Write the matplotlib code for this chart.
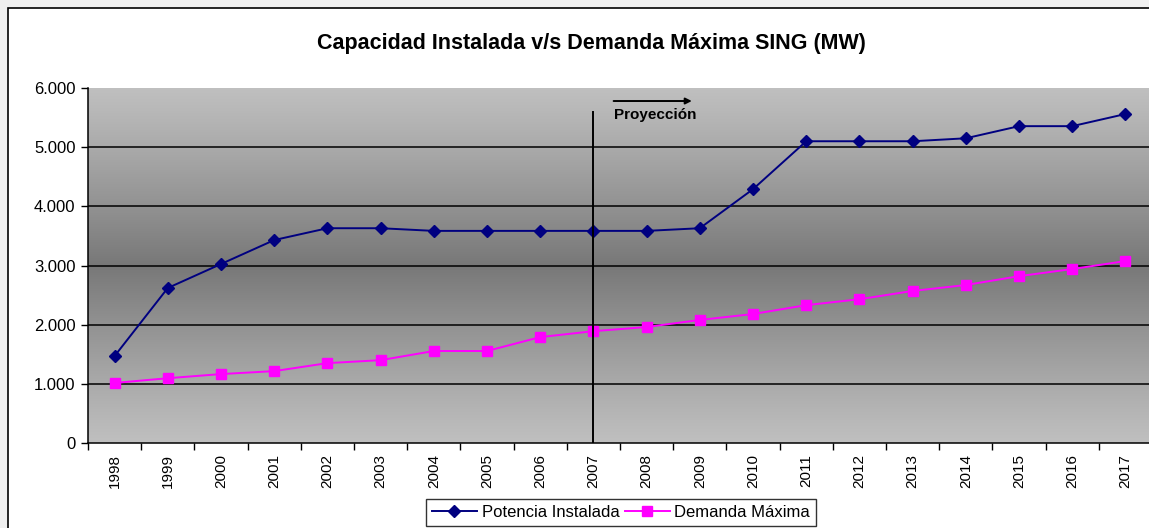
import numpy as np
import matplotlib
matplotlib.use("Agg")
import matplotlib.pyplot as plt
from matplotlib.patches import Rectangle
from matplotlib.ticker import FuncFormatter, FixedLocator

plt.rcParams["font.family"] = ["Liberation Sans", "DejaVu Sans"]

years = [str(y) for y in range(1998, 2018)]
potencia = [1470, 2620, 3025, 3430, 3630, 3630, 3585, 3585, 3585, 3585,
            3585, 3630, 4290, 5100, 5100, 5100, 5150, 5355, 5355, 5560]
demanda = [1015, 1095, 1165, 1215, 1350, 1400, 1555, 1555, 1790, 1890,
           1960, 2080, 2180, 2330, 2430, 2570, 2670, 2820, 2940, 3075]
yticks = [0, 1000, 2000, 3000, 4000, 5000, 6000]
proj_year = "2007"

W, H = 1149, 528
fig = plt.figure(figsize=(W / 100, H / 100), dpi=100)
fig.patch.set_facecolor("#efefef")

# white chart frame
fig.patches.append(Rectangle((8 / W, -0.1), 1.2, 1 - 8 / H + 0.1, transform=fig.transFigure,
                             facecolor="white", edgecolor="black", linewidth=1.2, zorder=-5))

ax = fig.add_axes([88 / W, 1 - 443 / H, (1152 - 88) / W, 355 / H])
x = np.arange(len(years))
ax.set_xlim(-0.5, len(years) - 0.5)
ax.set_ylim(0, 6000)

# vertical gradient background
t = np.linspace(0, 1, 256)
g = 0.75 - 0.28 * (1 - np.abs(t - 0.5) * 2) ** 1.1
img = np.dstack([g, g, g]).reshape(256, 1, 3)
ax.imshow(img, extent=[-0.5, len(years) - 0.5, 0, 6000], aspect="auto",
          origin="upper", zorder=0)

for v in yticks[1:-1]:
    ax.axhline(v, color="black", linewidth=1.1, zorder=1)

ax.plot(x, potencia, color="#000080", marker="D", markersize=6.5,
        linewidth=1.4, label="Potencia Instalada", zorder=3)
ax.plot(x, demanda, color="#ff00ff", marker="s", markersize=7,
        linewidth=1.4, label="Demanda Máxima", zorder=3)

px = years.index(proj_year)
ax.plot([px, px], [0, 5600], color="black", linewidth=1.4, zorder=4)
ax.annotate("", xy=(px + 1.85, 5780), xytext=(px + 0.38, 5780),
            arrowprops=dict(arrowstyle="-|>", color="black", lw=1.4,
                            mutation_scale=9, shrinkA=0, shrinkB=0))
ax.text(px + 0.38, 5550, "Proyección", fontsize=11, fontweight="bold",
        ha="left", va="center")

ax.set_yticks(yticks)
ax.yaxis.set_major_formatter(FuncFormatter(lambda v, p: f"{int(v):,}".replace(",", ".")))
ax.set_xticks(x)
ax.set_xticklabels(years, rotation=90)
ax.xaxis.set_minor_locator(FixedLocator(np.arange(-0.5, len(years), 1)))
ax.tick_params(axis="x", which="major", length=0, pad=8, labelsize=11)
ax.tick_params(axis="x", which="minor", length=5, width=1)
ax.tick_params(axis="y", length=5, width=1, labelsize=12, pad=4)
for side in ["top", "right"]:
    ax.spines[side].set_visible(False)
for side in ["left", "bottom"]:
    ax.spines[side].set_linewidth(1.1)

fig.text(591 / W, 1 - 44 / H, "Capacidad Instalada v/s Demanda Máxima SING (MW)",
         fontsize=15.5, fontweight="bold", ha="center", va="center")

leg = fig.legend(loc="upper center", bbox_to_anchor=(621 / W, 1 - 499 / H), ncol=2,
                 fontsize=12, frameon=True, fancybox=False, edgecolor="black",
                 handlelength=2.7, columnspacing=0.3, handletextpad=0.3,
                 borderpad=0.35, borderaxespad=0)
leg.get_frame().set_linewidth(1.0)

fig.savefig("out.png", dpi=100, facecolor=fig.get_facecolor())
